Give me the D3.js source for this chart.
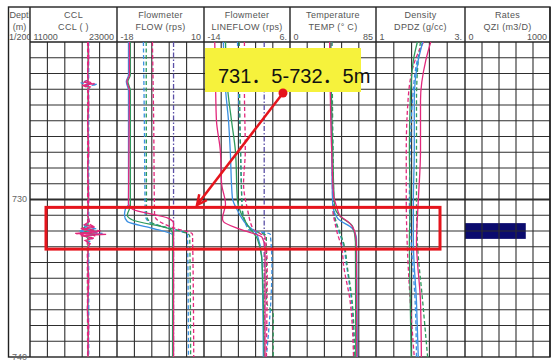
<!DOCTYPE html>
<html>
<head>
<meta charset="utf-8">
<script src="https://cdn.jsdelivr.net/npm/d3@7"></script>
<style>
  body { margin: 0; background: #fff; }
  svg { display: block; font-family: "Liberation Sans", Arial, sans-serif; }
</style>
</head>
<body>
<div id="log"></div>
<script>
// ---- data -------------------------------------------------------------
const depthRange = [720, 740];
const depthLabels = [730, 740];

const trackTitles = ['CCL', 'Flowmeter', 'Flowmeter', 'Temperature', 'Density', 'Rates'];
const trackMnemonics = ['CCL ( )', 'FLOW (rps)', 'LINEFLOW (rps)', 'TEMP (° C)', 'DPDZ (g/cc)', 'QZI (m3/D)'];
const trackMin = [11000, -18, -14, 0, 1, 0];
const trackMax = [23000, 10, 6, 85, 3, 1000];
const trackMinLabels = ['11000', '-18', '-14', '0', '1', '0'];
const trackMaxLabels = ['23000', '10', '6.', '85', '3.', '1000'];

// each curve: [depth (m), value]
const cclPinkSolid = [[720,19030],[721,19100],[722,18950],[722.4,19030],[722.55,18480],[722.65,19600],[722.75,18200],[722.85,19300],[723,19030],[724,19100],[725,18950],[726,19030],[727,19100],[728,18950],[729,19030],[730,19100],[731,18950],[731.4,19200],[731.6,18500],[731.75,19900],[731.9,18200],[732.05,20400],[732.15,17230],[732.22,21500],[732.3,18000],[732.45,19800],[732.6,18600],[732.8,19300],[733,19030],[734,18950],[735,19100],[736,19030],[737,18900],[738,19100],[739,19030],[740,19000]];
const cclPinkDashed = [[720,18950],[722.5,18950],[722.65,19900],[722.75,18300],[722.9,18950],[731.5,18950],[731.7,19700],[731.85,18000],[732.0,20800],[732.18,17400],[732.3,20000],[732.5,18900],[740,18950]];
const cclBlueDashed = [[720,19100],[722.4,19100],[722.6,18000],[722.7,20300],[722.8,18700],[723,19100],[731.5,19100],[731.7,18300],[731.85,20200],[732.0,17700],[732.15,21000],[732.3,18500],[732.5,19600],[732.7,19100],[740,19100]];
const cclGreenSolid = [[720,19000],[731.6,19000],[731.8,18400],[731.95,19800],[732.1,17900],[732.2,20000],[732.35,18800],[732.5,19000],[740,19000]];

const flowBlueSolid = [[720,-14.3],[722.1,-14.3],[722.5,-15.0],[723.1,-14.3],[730.3,-14.3],[730.6,-15.3],[731.0,-15.6],[731.4,-14.7],[731.8,-7.2],[732.25,-0.1],[740,-0.1]];
const flowGreenSolid = [[720,-13.7],[722.1,-13.7],[722.5,-14.5],[723.1,-13.7],[730.4,-13.7],[731.0,-14.7],[731.3,-13.0],[731.9,-0.8],[732.2,-0.1],[740,-0.1]];
const flowPinkSolid = [[720,-14.0],[722.1,-14.0],[722.5,-14.8],[723.1,-14.0],[730.25,-14.3],[730.6,-13.1],[731.2,-1.4],[731.5,0.2],[740,0.2]];
const flowBlueDashed = [[720,-9.5],[725,-9.2],[731.0,-8.9],[731.4,-7.9],[732.25,4.7],[740,5.0]];
const flowGreenDashed = [[720,-8.6],[731.0,-8.5],[731.4,-7.5],[732.3,5.4],[740,5.7]];
const flowPinkDashed = [[720,-6.6],[725,-6.2],[731.0,-5.9],[731.3,-5.0],[731.8,0.2],[732.2,6.3],[740,6.7]];
const flowPurpleDashDot = [[720,0.2],[740,0.2]];

const lineflowPinkSolid = [[720,-11.5],[723,-11.3],[725,-11.1],[726.9,-10.2],[729.0,-9.9],[730.3,-9.0],[731.2,-9.7],[731.4,-9.5],[731.9,-5.5],[732.4,-0.5],[733.1,0.2],[740,0.2]];
const lineflowBlueSolid = [[720,-9.5],[723,-9.0],[725,-8.3],[726.9,-7.9],[729.9,-7.4],[730.8,-6.0],[731.5,-4.4],[732.25,-1.6],[734,-0.5],[740,-0.2]];
const lineflowGreenSolid = [[720,-9.0],[723,-8.5],[725,-7.6],[726.9,-6.7],[730.1,-6.2],[730.8,-5.5],[731.7,-3.7],[732.5,-1.6],[734,-0.5],[740,0.0]];
const lineflowBlueDashed = [[720,-6.2],[723,-6.0],[726.9,-5.5],[729,-5.3],[730.6,-5.1],[731.9,-3.7],[732.2,1.4],[734.2,1.8],[740,0.5]];
const lineflowPinkDashed = [[720,-4.6],[723,-4.6],[726.9,-4.4],[729,-4.8],[730.6,-3.9],[731.9,-2.5],[732.4,0.2],[734.2,0.7],[740,0.5]];
const lineflowGreenDashed = [[720,-5.8],[726.9,-5.5],[730.6,-5.1],[731.9,-3.2],[732.3,0.5],[736.5,0.5],[737.3,2.1],[740,2.1]];
const lineflowPurpleDashDot = [[720,0.0],[740,0.0]];

const tempPinkSolid = [[720,39.2],[726.9,41.2],[729.8,43.2],[730.45,46.1],[731.0,49.1],[731.5,58.9],[732.0,63.8],[733.0,65.7],[740,66.0]];
const tempBlueSolid = [[720,40.2],[726.9,41.2],[730.3,42.2],[731.2,47.1],[731.85,61.8],[732.5,65.7],[740,66.7]];
const tempGreenSolid = [[720,40.2],[726.9,42.2],[730.45,44.1],[731.1,50.0],[731.7,61.8],[732.7,64.7],[740,65.0]];
const tempBlueDashed = [[720,41.2],[726.9,42.2],[730.8,43.2],[731.4,45.0],[732.0,48.0],[732.7,52.0],[734.2,55.9],[736.5,60.8],[740,63.5]];
const tempPinkDashed = [[720,40.5],[726.9,41.5],[730.8,42.5],[731.5,44.5],[732.2,47.0],[733.0,51.0],[734.2,53.0],[736.5,59.5],[740,62.8]];
const tempGreenDashed = [[720,41.5],[726.9,42.5],[730.8,43.5],[731.5,46.0],[732.2,50.0],[733.0,54.0],[734.2,56.5],[736.5,61.5],[740,64.0]];

const densPinkSolid = [[720,2.23],[721.15,2.12],[723.7,2.0],[726.9,2.0],[730.1,1.95],[732.7,1.91],[736.5,2.0],[740,2.02]];
const densBlueSolid = [[720,2.05],[721.15,1.95],[723.7,1.86],[726.9,1.86],[730.1,1.84],[732.7,1.84],[736.5,1.91],[740,1.95]];
const densGreenSolid = [[720,1.93],[721.15,1.84],[723.7,1.77],[726.9,1.75],[730.1,1.77],[732.7,1.75],[736.5,1.77],[740,1.79]];
const densPinkDashed = [[720,2.07],[721.15,1.88],[723.7,1.72],[726.9,1.68],[730.1,1.68],[732.7,1.70],[736.5,1.77],[740,1.86]];
const densBlueDashed = [[720,2.05],[721.15,1.93],[723.7,1.82],[726.9,1.77],[730.1,1.75],[732.7,1.79],[736.5,1.88],[740,1.91]];
const densGreenDashed = [[720,2.0],[721.15,1.95],[723.7,1.91],[726.9,1.91],[730.1,1.91],[732.7,1.93],[736.5,2.05],[740,2.16]];

// QZI rate interval: [top, bottom, value]
const qziIntervals = [[731.5, 732.5, 715]];

// annotation
const zoneLabel = '731．5-732．5m';
const zoneBox = [730.5, 733.15];

// ---- layout -----------------------------------------------------------
const W = 555, H = 361;
const frame = { left: 8.5, top: 7, right: 550, bottom: 357, depthCol: 30, header: 42 };
const trackEdges = [30, 117, 204, 290, 376, 465, 550];

const PINK = '#e2287c', BLUE = '#3a8fe2', GREEN = '#2e9a5c', PURPLE = '#5a4fa6';
const SOLID = null, DASH = '4,2.5', DASHDOT = '5,2,1.5,2';

const curves = [
  { t: 0, data: cclGreenSolid, c: GREEN, d: SOLID },
  { t: 0, data: cclBlueDashed, c: BLUE, d: DASH },
  { t: 0, data: cclPinkDashed, c: PINK, d: DASH },
  { t: 0, data: cclPinkSolid, c: PINK, d: SOLID },
  { t: 1, data: flowPurpleDashDot, c: PURPLE, d: DASHDOT },
  { t: 1, data: flowBlueDashed, c: BLUE, d: DASH },
  { t: 1, data: flowGreenDashed, c: GREEN, d: DASH },
  { t: 1, data: flowPinkDashed, c: PINK, d: DASH },
  { t: 1, data: flowBlueSolid, c: BLUE, d: SOLID },
  { t: 1, data: flowGreenSolid, c: GREEN, d: SOLID },
  { t: 1, data: flowPinkSolid, c: PINK, d: SOLID },
  { t: 2, data: lineflowPurpleDashDot, c: PURPLE, d: DASHDOT },
  { t: 2, data: lineflowBlueDashed, c: BLUE, d: DASH },
  { t: 2, data: lineflowGreenDashed, c: GREEN, d: DASH },
  { t: 2, data: lineflowPinkDashed, c: PINK, d: DASH },
  { t: 2, data: lineflowBlueSolid, c: BLUE, d: SOLID },
  { t: 2, data: lineflowGreenSolid, c: GREEN, d: SOLID },
  { t: 2, data: lineflowPinkSolid, c: PINK, d: SOLID },
  { t: 3, data: tempBlueDashed, c: BLUE, d: DASH },
  { t: 3, data: tempGreenDashed, c: GREEN, d: DASH },
  { t: 3, data: tempPinkDashed, c: PINK, d: DASH },
  { t: 3, data: tempBlueSolid, c: BLUE, d: SOLID },
  { t: 3, data: tempGreenSolid, c: GREEN, d: SOLID },
  { t: 3, data: tempPinkSolid, c: PINK, d: SOLID },
  { t: 4, data: densBlueDashed, c: BLUE, d: DASH },
  { t: 4, data: densGreenDashed, c: GREEN, d: DASH },
  { t: 4, data: densPinkDashed, c: PINK, d: DASH },
  { t: 4, data: densGreenSolid, c: GREEN, d: SOLID },
  { t: 4, data: densBlueSolid, c: BLUE, d: SOLID },
  { t: 4, data: densPinkSolid, c: PINK, d: SOLID }
];

const svg = d3.select('#log').append('svg').attr('width', W).attr('height', H);

const y = d3.scaleLinear().domain(depthRange).range([frame.header, frame.bottom]);
const xScales = trackMin.map((mn, i) => d3.scaleLinear()
  .domain([mn, trackMax[i]])
  .range([trackEdges[i], trackEdges[i + 1]]));

const defs = svg.append('defs');
defs.append('clipPath').attr('id', 'clip-depth').append('rect')
  .attr('x', frame.left).attr('y', frame.top)
  .attr('width', frame.depthCol - frame.left).attr('height', frame.header - frame.top);
xScales.forEach((xs, i) => {
  defs.append('clipPath').attr('id', 'clip-t' + i).append('rect')
    .attr('x', xs.range()[0]).attr('y', frame.header)
    .attr('width', xs.range()[1] - xs.range()[0]).attr('height', frame.bottom - frame.header);
});

drawRates();
drawGrid();
drawHeader();
drawCurves();
drawAnnotation();

function drawGrid() {
  const g = svg.append('g');
  const depths = d3.range(depthRange[0] + 1, depthRange[1]);
  g.selectAll('line.h').data(depths).join('line')
    .attr('x1', frame.depthCol).attr('x2', frame.right)
    .attr('y1', d => y(d)).attr('y2', d => y(d))
    .attr('stroke', '#2e2e2e')
    .attr('stroke-width', d => d % 10 === 0 ? 2.2 : 1.1);

  xScales.forEach((xs, i) => {
    const [mn, mx] = xs.domain();
    const ticks = d3.range(1, 5).map(k => mn + k * (mx - mn) / 5);
    g.selectAll('line.v' + i).data(ticks).join('line')
      .attr('x1', d => xs(d)).attr('x2', d => xs(d))
      .attr('y1', frame.header).attr('y2', frame.bottom)
      .attr('stroke', '#2e2e2e').attr('stroke-width', 1.1);
  });

  // track dividers and frame
  g.selectAll('line.div').data(trackEdges).join('line')
    .attr('x1', d => d).attr('x2', d => d)
    .attr('y1', frame.top).attr('y2', frame.bottom)
    .attr('stroke', '#222').attr('stroke-width', 1.4);
  g.append('line')
    .attr('x1', frame.depthCol).attr('x2', frame.right)
    .attr('y1', frame.header).attr('y2', frame.header)
    .attr('stroke', '#222').attr('stroke-width', 1.4);
  g.append('rect')
    .attr('x', frame.left).attr('y', frame.top)
    .attr('width', frame.right - frame.left).attr('height', frame.bottom - frame.top)
    .attr('fill', 'none').attr('stroke', '#222').attr('stroke-width', 1.4);

  g.selectAll('text.depth').data(depthLabels).join('text')
    .attr('x', 27).attr('y', d => y(d) + 2.5)
    .attr('text-anchor', 'end')
    .attr('font-size', 9).attr('fill', '#666')
    .text(d => d);
}

function drawHeader() {
  const g = svg.append('g').attr('fill', '#555').attr('font-size', 9);
  const cx = i => (trackEdges[i] + trackEdges[i + 1]) / 2;
  g.selectAll('text.title').data(trackTitles).join('text')
    .attr('x', (d, i) => cx(i)).attr('y', 18)
    .attr('text-anchor', 'middle').attr('letter-spacing', 0.3)
    .text(d => d);
  g.selectAll('text.mnem').data(trackMnemonics).join('text')
    .attr('x', (d, i) => cx(i)).attr('y', 29.5)
    .attr('text-anchor', 'middle').attr('letter-spacing', 0.3)
    .text(d => d);
  g.selectAll('text.min').data(trackMinLabels).join('text')
    .attr('x', (d, i) => trackEdges[i] + 3.5).attr('y', 39.5)
    .text(d => d);
  g.selectAll('text.max').data(trackMaxLabels).join('text')
    .attr('x', (d, i) => trackEdges[i + 1] - 3).attr('y', 39.5)
    .attr('text-anchor', 'end')
    .text(d => d);

  const dg = g.append('g').attr('clip-path', 'url(#clip-depth)');
  dg.append('text').attr('x', 9.5).attr('y', 18).text('Depth');
  dg.append('text').attr('x', 19.5).attr('y', 29.5).attr('text-anchor', 'middle').text('(m)');
  dg.append('text').attr('x', 9).attr('y', 39.5).text('1/200');
}

function drawCurves() {
  curves.forEach(cv => {
    const xs = xScales[cv.t];
    const line = d3.line()
      .x(d => xs(d[1])).y(d => y(d[0]))
      .curve(cv.t === 0 ? d3.curveLinear : d3.curveMonotoneY);
    svg.append('path')
      .attr('clip-path', 'url(#clip-t' + cv.t + ')')
      .attr('d', line(cv.data))
      .attr('fill', 'none')
      .attr('stroke', cv.c)
      .attr('stroke-width', 1.3)
      .attr('stroke-dasharray', cv.d);
  });
}

function drawRates() {
  const xs = xScales[5];
  svg.append('g').selectAll('rect').data(qziIntervals).join('rect')
    .attr('x', xs(0)).attr('y', d => y(d[0]))
    .attr('width', d => xs(d[2]) - xs(0))
    .attr('height', d => y(d[1]) - y(d[0]))
    .attr('fill', '#0b0b6e');
}

function drawAnnotation() {
  const g = svg.append('g');
  g.append('rect')
    .attr('x', 46).attr('y', y(zoneBox[0]))
    .attr('width', 440 - 46).attr('height', y(zoneBox[1]) - y(zoneBox[0]))
    .attr('fill', 'none').attr('stroke', '#e5141c').attr('stroke-width', 3);

  g.append('rect')
    .attr('x', 205).attr('y', 48).attr('width', 156).attr('height', 44)
    .attr('fill', '#f6f23c');
  g.append('text')
    .attr('x', 218).attr('y', 83)
    .attr('font-family', '"Liberation Sans", "Noto Sans CJK JP", sans-serif')
    .attr('font-size', 20).attr('fill', '#111')
    .text(zoneLabel);

  const start = [283, 93], tip = [197, 205];
  g.append('line')
    .attr('x1', start[0]).attr('y1', start[1]).attr('x2', tip[0]).attr('y2', tip[1])
    .attr('stroke', '#e5141c').attr('stroke-width', 2.5);
  const ang = Math.atan2(start[1] - tip[1], start[0] - tip[0]);
  const head = [ang - 0.45, ang + 0.45].map(a => [tip[0] + 11 * Math.cos(a), tip[1] + 11 * Math.sin(a)]);
  g.append('path')
    .attr('d', `M${head[0][0]},${head[0][1]}L${tip[0]},${tip[1]}L${head[1][0]},${head[1][1]}`)
    .attr('fill', 'none').attr('stroke', '#e5141c').attr('stroke-width', 2.5);
  g.append('circle').attr('cx', start[0]).attr('cy', start[1]).attr('r', 4.5).attr('fill', '#e5141c');
}
</script>
</body>
</html>
